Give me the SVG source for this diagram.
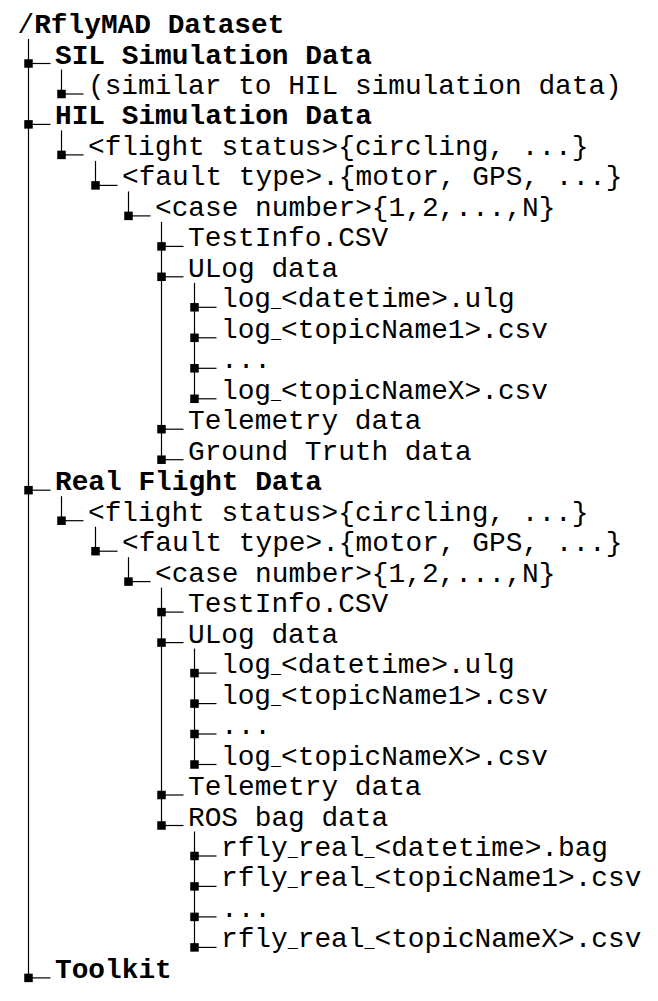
<svg xmlns="http://www.w3.org/2000/svg" width="658" height="1001" viewBox="0 0 658 1001">
<style>
text{font-family:"Liberation Mono","DejaVu Sans Mono",monospace;font-size:27.8px;fill:#000}
.b{font-weight:bold}
.u{font-size:16.7px}
.c line{stroke:#000;stroke-width:1.2}
.c rect{fill:#000}
</style>
<rect width="658" height="1001" fill="#fff"/>
<g id="connectors" class="c">
<line x1="28.5" y1="39" x2="28.5" y2="977.9"/>
<line x1="61.5" y1="69.5" x2="61.5" y2="94"/>
<line x1="61.5" y1="130.4" x2="61.5" y2="154.9"/>
<line x1="95.5" y1="160.9" x2="95.5" y2="185.4"/>
<line x1="128.5" y1="191.4" x2="128.5" y2="215.9"/>
<line x1="161.5" y1="221.9" x2="161.5" y2="459.7"/>
<line x1="194.5" y1="282.8" x2="194.5" y2="398.8"/>
<line x1="61.5" y1="496.2" x2="61.5" y2="520.7"/>
<line x1="95.5" y1="526.7" x2="95.5" y2="551.2"/>
<line x1="128.5" y1="557.2" x2="128.5" y2="581.6"/>
<line x1="161.5" y1="587.6" x2="161.5" y2="825.5"/>
<line x1="194.5" y1="648.6" x2="194.5" y2="764.5"/>
<line x1="194.5" y1="831.5" x2="194.5" y2="947.4"/>
<line x1="28.5" y1="63.5" x2="50.5" y2="63.5"/><rect x="24.25" y="59.25" width="8.5" height="8.5"/>
<line x1="28.5" y1="124.4" x2="50.5" y2="124.4"/><rect x="24.25" y="120.15" width="8.5" height="8.5"/>
<line x1="28.5" y1="490.2" x2="50.5" y2="490.2"/><rect x="24.25" y="485.95" width="8.5" height="8.5"/>
<line x1="28.5" y1="977.9" x2="50.5" y2="977.9"/><rect x="24.25" y="973.65" width="8.5" height="8.5"/>
<line x1="61.5" y1="94" x2="83.5" y2="94"/><rect x="57.25" y="89.75" width="8.5" height="8.5"/>
<line x1="61.5" y1="154.9" x2="83.5" y2="154.9"/><rect x="57.25" y="150.65" width="8.5" height="8.5"/>
<line x1="61.5" y1="520.7" x2="83.5" y2="520.7"/><rect x="57.25" y="516.45" width="8.5" height="8.5"/>
<line x1="95.5" y1="185.4" x2="117.5" y2="185.4"/><rect x="91.25" y="181.15" width="8.5" height="8.5"/>
<line x1="95.5" y1="551.2" x2="117.5" y2="551.2"/><rect x="91.25" y="546.95" width="8.5" height="8.5"/>
<line x1="128.5" y1="215.9" x2="150.5" y2="215.9"/><rect x="124.25" y="211.65" width="8.5" height="8.5"/>
<line x1="128.5" y1="581.6" x2="150.5" y2="581.6"/><rect x="124.25" y="577.35" width="8.5" height="8.5"/>
<line x1="161.5" y1="246.4" x2="183.5" y2="246.4"/><rect x="157.25" y="242.15" width="8.5" height="8.5"/>
<line x1="161.5" y1="276.8" x2="183.5" y2="276.8"/><rect x="157.25" y="272.55" width="8.5" height="8.5"/>
<line x1="161.5" y1="429.2" x2="183.5" y2="429.2"/><rect x="157.25" y="424.95" width="8.5" height="8.5"/>
<line x1="161.5" y1="459.7" x2="183.5" y2="459.7"/><rect x="157.25" y="455.45" width="8.5" height="8.5"/>
<line x1="161.5" y1="612.1" x2="183.5" y2="612.1"/><rect x="157.25" y="607.85" width="8.5" height="8.5"/>
<line x1="161.5" y1="642.6" x2="183.5" y2="642.6"/><rect x="157.25" y="638.35" width="8.5" height="8.5"/>
<line x1="161.5" y1="795" x2="183.5" y2="795"/><rect x="157.25" y="790.75" width="8.5" height="8.5"/>
<line x1="161.5" y1="825.5" x2="183.5" y2="825.5"/><rect x="157.25" y="821.25" width="8.5" height="8.5"/>
<line x1="194.5" y1="307.3" x2="216.5" y2="307.3"/><rect x="190.25" y="303.05" width="8.5" height="8.5"/>
<line x1="194.5" y1="337.8" x2="216.5" y2="337.8"/><rect x="190.25" y="333.55" width="8.5" height="8.5"/>
<line x1="194.5" y1="368.3" x2="216.5" y2="368.3"/><rect x="190.25" y="364.05" width="8.5" height="8.5"/>
<line x1="194.5" y1="398.8" x2="216.5" y2="398.8"/><rect x="190.25" y="394.55" width="8.5" height="8.5"/>
<line x1="194.5" y1="673.1" x2="216.5" y2="673.1"/><rect x="190.25" y="668.85" width="8.5" height="8.5"/>
<line x1="194.5" y1="703.6" x2="216.5" y2="703.6"/><rect x="190.25" y="699.35" width="8.5" height="8.5"/>
<line x1="194.5" y1="734" x2="216.5" y2="734"/><rect x="190.25" y="729.75" width="8.5" height="8.5"/>
<line x1="194.5" y1="764.5" x2="216.5" y2="764.5"/><rect x="190.25" y="760.25" width="8.5" height="8.5"/>
<line x1="194.5" y1="856" x2="216.5" y2="856"/><rect x="190.25" y="851.75" width="8.5" height="8.5"/>
<line x1="194.5" y1="886.4" x2="216.5" y2="886.4"/><rect x="190.25" y="882.15" width="8.5" height="8.5"/>
<line x1="194.5" y1="916.9" x2="216.5" y2="916.9"/><rect x="190.25" y="912.65" width="8.5" height="8.5"/>
<line x1="194.5" y1="947.4" x2="216.5" y2="947.4"/><rect x="190.25" y="943.15" width="8.5" height="8.5"/>
</g>
<g id="root"><text x="17.5" y="33">/<tspan class="b">RflyMAD Dataset</tspan></text></g>
<g id="sil"><text class="b" x="55" y="63.5">SIL Simulation Data</text></g>
<g id="sil-similar"><text x="88" y="94">(similar to HIL simulation data)</text></g>
<g id="hil"><text class="b" x="55" y="124.4">HIL Simulation Data</text></g>
<g id="hil-flight"><text x="88" y="154.9">&lt;flight status&gt;{circling, ...}</text></g>
<g id="hil-fault"><text x="122" y="185.4">&lt;fault type&gt;.{motor, GPS, ...}</text></g>
<g id="hil-case"><text x="155" y="215.9">&lt;case number&gt;{1,2,...,N}</text></g>
<g id="hil-testinfo"><text x="188" y="246.4">TestInfo.CSV</text></g>
<g id="hil-ulog"><text x="188" y="276.8">ULog data</text></g>
<g id="hil-log-dt"><text x="221" y="307.3">log<tspan class="u">_</tspan>&lt;datetime&gt;.ulg</text></g>
<g id="hil-log-t1"><text x="221" y="337.8">log<tspan class="u">_</tspan>&lt;topicName1&gt;.csv</text></g>
<g id="hil-log-dots"><text x="221" y="368.3">...</text></g>
<g id="hil-log-tx"><text x="221" y="398.8">log<tspan class="u">_</tspan>&lt;topicNameX&gt;.csv</text></g>
<g id="hil-telemetry"><text x="188" y="429.2">Telemetry data</text></g>
<g id="hil-groundtruth"><text x="188" y="459.7">Ground Truth data</text></g>
<g id="real"><text class="b" x="55" y="490.2">Real Flight Data</text></g>
<g id="real-flight"><text x="88" y="520.7">&lt;flight status&gt;{circling, ...}</text></g>
<g id="real-fault"><text x="122" y="551.2">&lt;fault type&gt;.{motor, GPS, ...}</text></g>
<g id="real-case"><text x="155" y="581.6">&lt;case number&gt;{1,2,...,N}</text></g>
<g id="real-testinfo"><text x="188" y="612.1">TestInfo.CSV</text></g>
<g id="real-ulog"><text x="188" y="642.6">ULog data</text></g>
<g id="real-log-dt"><text x="221" y="673.1">log<tspan class="u">_</tspan>&lt;datetime&gt;.ulg</text></g>
<g id="real-log-t1"><text x="221" y="703.6">log<tspan class="u">_</tspan>&lt;topicName1&gt;.csv</text></g>
<g id="real-log-dots"><text x="221" y="734">...</text></g>
<g id="real-log-tx"><text x="221" y="764.5">log<tspan class="u">_</tspan>&lt;topicNameX&gt;.csv</text></g>
<g id="real-telemetry"><text x="188" y="795">Telemetry data</text></g>
<g id="real-ros"><text x="188" y="825.5">ROS bag data</text></g>
<g id="ros-bag"><text x="221" y="856">rfly<tspan class="u">_</tspan>real<tspan class="u">_</tspan>&lt;datetime&gt;.bag</text></g>
<g id="ros-t1"><text x="221" y="886.4">rfly<tspan class="u">_</tspan>real<tspan class="u">_</tspan>&lt;topicName1&gt;.csv</text></g>
<g id="ros-dots"><text x="221" y="916.9">...</text></g>
<g id="ros-tx"><text x="221" y="947.4">rfly<tspan class="u">_</tspan>real<tspan class="u">_</tspan>&lt;topicNameX&gt;.csv</text></g>
<g id="toolkit"><text class="b" x="55" y="977.9">Toolkit</text></g>
</svg>
